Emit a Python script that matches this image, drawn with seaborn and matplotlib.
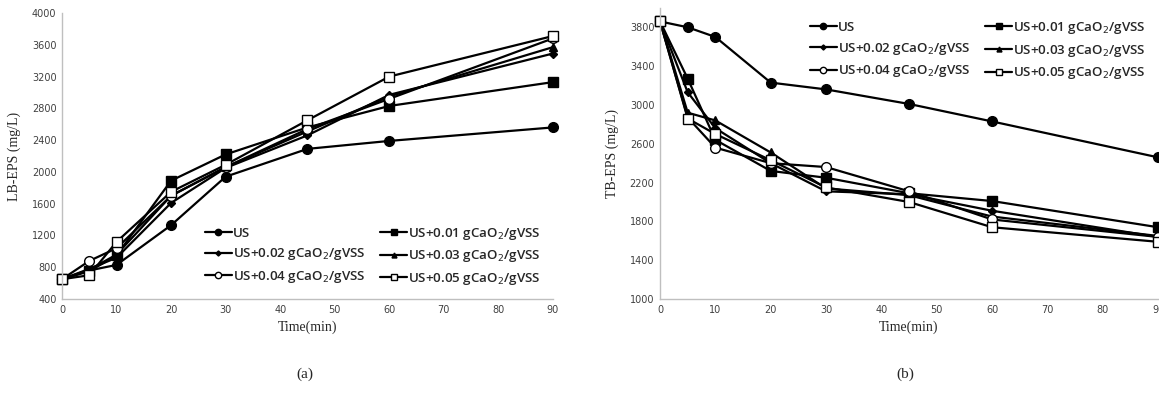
import numpy as np
import pandas as pd
import matplotlib
matplotlib.use('Agg')
import matplotlib.pyplot as plt
import seaborn as sns

# time points (min)
time = [0, 5, 10, 20, 30, 45, 60, 90]

# (a) LB-EPS (mg/L)
lb_us = [650, 760, 830, 1330, 1940, 2290, 2390, 2560]
lb_001 = [650, 750, 950, 1890, 2220, 2560, 2830, 3130]
lb_002 = [650, 780, 920, 1610, 2050, 2460, 2970, 3490]
lb_003 = [650, 770, 960, 1700, 2060, 2510, 2950, 3570]
lb_004 = [650, 880, 1040, 1700, 2060, 2540, 2920, 3680]
lb_005 = [650, 700, 1120, 1750, 2090, 2650, 3200, 3710]

# (b) TB-EPS (mg/L)
tb_us = [3860, 3800, 3700, 3230, 3160, 3010, 2830, 2460]
tb_001 = [3860, 3270, 2640, 2320, 2250, 2090, 2010, 1740]
tb_002 = [3860, 3130, 2760, 2400, 2110, 2080, 1910, 1640]
tb_003 = [3860, 2920, 2840, 2510, 2140, 2070, 1850, 1650]
tb_004 = [3860, 2870, 2560, 2400, 2360, 2110, 1820, 1640]
tb_005 = [3860, 2860, 2700, 2430, 2150, 2000, 1740, 1590]

labels = ['US', 'US+0.01 gCaO$_2$/gVSS', 'US+0.02 gCaO$_2$/gVSS',
          'US+0.03 gCaO$_2$/gVSS', 'US+0.04 gCaO$_2$/gVSS', 'US+0.05 gCaO$_2$/gVSS']

# marker, marker size, face colour for each series
styles = [('o', 7, 'black'), ('s', 7.5, 'black'), ('D', 4, 'black'),
          ('^', 5.5, 'black'), ('o', 7, 'white'), ('s', 7.5, 'white')]

sns.set_style('white')
plt.rcParams['font.family'] = ['DejaVu Sans']

fig = plt.figure(figsize=(11.59, 3.93), dpi=100)
axa = fig.add_axes([0.0535, 0.239, 0.4236, 0.728])
axb = fig.add_axes([0.5695, 0.239, 0.4297, 0.741])

# legend fills column by column; reorder so rows read US/0.01, 0.02/0.03, 0.04/0.05
order = [0, 2, 4, 1, 3, 5]


def draw(ax, series):
    for ys, lab, (m, ms, fc) in zip(series, labels, styles):
        sns.lineplot(x=time, y=ys, ax=ax, color='black', lw=1.6, marker=m,
                     markersize=ms, markerfacecolor=fc, markeredgecolor='black',
                     markeredgewidth=1.0, label=lab, clip_on=False)
    ax.set_xlim(0, 90)
    ax.set_xticks(range(0, 91, 10))
    for s in ['top', 'right']:
        ax.spines[s].set_visible(False)
    for s in ['left', 'bottom']:
        ax.spines[s].set_color('#bfbfbf')
        ax.spines[s].set_linewidth(1.0)
    ax.tick_params(length=0, labelsize=7, colors='#404040', pad=4)
    ax.set_xlabel('Time(min)', family='Liberation Serif', fontsize=10, labelpad=4)


def add_legend(ax, loc):
    h, l = ax.get_legend_handles_labels()
    ax.legend([h[i] for i in order], [l[i] for i in order], ncol=2, loc=loc,
              frameon=False, handlelength=2.0, handletextpad=0.1,
              columnspacing=1.1, labelspacing=0.5, markerscale=0.65,
              prop={'family': 'Open Sans', 'weight': 'semibold', 'size': 9.6})


draw(axa, [lb_us, lb_001, lb_002, lb_003, lb_004, lb_005])
axa.set_ylim(400, 4000)
axa.set_yticks(range(400, 4001, 400))
axa.set_ylabel('LB-EPS (mg/L)', family='Liberation Serif', fontsize=10, labelpad=8)
add_legend(axa, 'lower right')

draw(axb, [tb_us, tb_001, tb_002, tb_003, tb_004, tb_005])
axb.set_ylim(1000, 4000)
axb.set_yticks(range(1000, 3801, 400))
axb.set_ylabel('TB-EPS (mg/L)', family='Liberation Serif', fontsize=10, labelpad=8)
add_legend(axb, 'upper right')

fig.text(0.263, 0.038, '(a)', family='Liberation Serif', fontsize=11, ha='center')
fig.text(0.781, 0.038, '(b)', family='Liberation Serif', fontsize=11, ha='center')

fig.savefig('out.png', dpi=100)
